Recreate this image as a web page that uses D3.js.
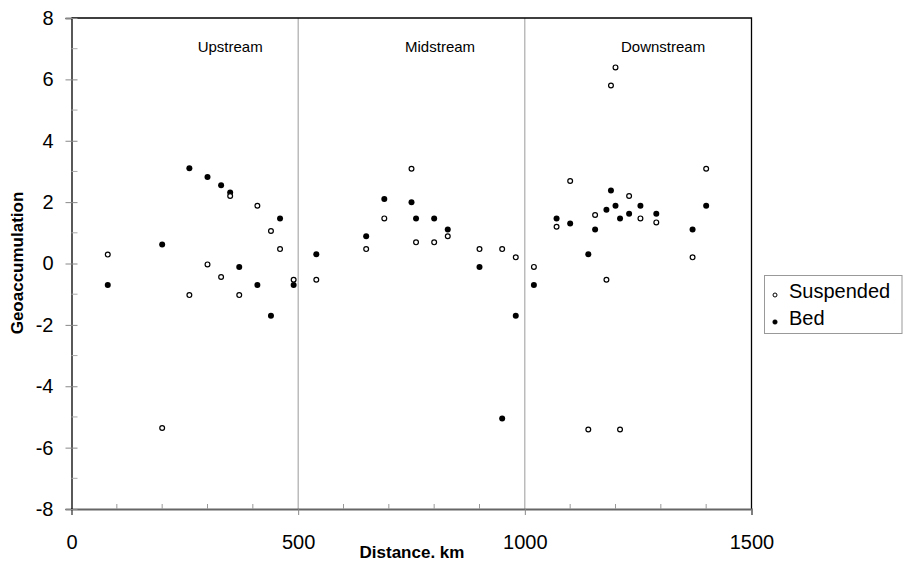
<!DOCTYPE html>
<html>
<head>
<meta charset="utf-8">
<script src="https://cdn.jsdelivr.net/npm/d3@7"></script>
<style>
  html, body { margin: 0; padding: 0; background: #fff; }
  svg { display: block; font-family: "Liberation Sans", Arial, sans-serif; }
</style>
</head>
<body>
<svg id="chart" width="903" height="564"></svg>
<script>
// Sampling distances along the river (km)
const distanceKm = [80, 200, 260, 300, 330, 350, 370, 410, 440, 460, 490,
  540, 650, 690, 750, 760, 800, 830, 900, 950, 980,
  1020, 1070, 1100, 1140, 1155, 1180, 1190, 1200, 1210, 1230, 1255, 1290, 1370, 1400];

// Geoaccumulation index, suspended sediment
const suspended = [0.29, -5.36, -1.03, -0.03, -0.44, 2.2, -1.03, 1.88, 1.06, 0.47, -0.53,
  -0.53, 0.47, 1.47, 3.09, 0.69, 0.69, 0.89, 0.47, 0.47, 0.2,
  -0.11, 1.2, 2.69, -5.41, 1.58, -0.53, 5.8, 6.39, -5.41, 2.2, 1.47, 1.34, 0.2, 3.09];

// Geoaccumulation index, bed sediment
const bed = [-0.7, 0.62, 3.1, 2.82, 2.55, 2.31, -0.11, -0.7, -1.7, 1.47, -0.7,
  0.3, 0.89, 2.1, 2.0, 1.47, 1.47, 1.11, -0.11, -5.05, -1.7,
  -0.7, 1.47, 1.3, 0.3, 1.11, 1.75, 2.38, 1.88, 1.47, 1.62, 1.88, 1.62, 1.11, 1.88];

// River reaches and their boundaries
const reaches = [
  { name: "Upstream", center: 350 },
  { name: "Midstream", center: 813 },
  { name: "Downstream", center: 1305 }
];
const reachBounds = [500, 1000];

const xTicks = [0, 500, 1000, 1500];
const xMinorTicks = d3.range(100, 1500, 100).filter(v => v % 500 !== 0);
const yTicks = [-8, -6, -4, -2, 0, 2, 4, 6, 8];
const yMinorTicks = [-7, -5, -3, -1, 1, 3, 5, 7];

const svg = d3.select("#chart");
const plot = { left: 71.5, right: 751.5, top: 18, bottom: 509 };

const x = d3.scaleLinear().domain([0, 1500]).range([plot.left, plot.right]);
const y = d3.scaleLinear().domain([-8, 8]).range([plot.bottom, plot.top]);

// Plain hyphen-minus labels
const plainFormat = d => String(d);

// Reach dividers
svg.append("g").selectAll("line").data(reachBounds).join("line")
  .attr("x1", d => x(d)).attr("x2", d => x(d))
  .attr("y1", plot.top).attr("y2", plot.bottom)
  .attr("stroke", "#9a9a9a").attr("stroke-width", 1);

// Frame: top and right borders
svg.append("path")
  .attr("d", `M${plot.left},${plot.top}H${plot.right}V${plot.bottom}`)
  .attr("fill", "none").attr("stroke", "#000").attr("stroke-width", 1.3);

// X axis
const xAxis = svg.append("g")
  .attr("transform", `translate(0,${plot.bottom})`)
  .call(d3.axisBottom(x).tickValues(xTicks).tickSize(6).tickPadding(20).tickFormat(plainFormat));
xAxis.select(".domain").attr("stroke", "#666").attr("stroke-width", 1.8);
xAxis.selectAll(".tick line").attr("stroke", "#888");
xAxis.selectAll(".tick text").attr("font-size", 20).attr("fill", "#000")
  .attr("font-family", "Liberation Sans, Arial, sans-serif");
svg.append("g").selectAll("line").data(xMinorTicks).join("line")
  .attr("x1", d => x(d)).attr("x2", d => x(d))
  .attr("y1", plot.bottom).attr("y2", plot.bottom - 5)
  .attr("stroke", "#999");

// Y axis
const yAxis = svg.append("g")
  .attr("transform", `translate(${plot.left},0)`)
  .call(d3.axisLeft(y).tickValues(yTicks).tickSize(6).tickPadding(12).tickFormat(plainFormat));
yAxis.select(".domain").attr("stroke", "#000").attr("stroke-width", 1.3);
yAxis.selectAll(".tick line").attr("stroke", "#888").attr("x2", 6).attr("x1", -6);
yAxis.selectAll(".tick text").attr("font-size", 20).attr("fill", "#000")
  .attr("font-family", "Liberation Sans, Arial, sans-serif");
svg.append("g").selectAll("line").data(yMinorTicks).join("line")
  .attr("x1", plot.left).attr("x2", plot.left + 6)
  .attr("y1", d => y(d)).attr("y2", d => y(d))
  .attr("stroke", "#aaa");

// Reach labels
svg.append("g").selectAll("text").data(reaches).join("text")
  .attr("x", d => x(d.center)).attr("y", 52)
  .attr("text-anchor", "middle").attr("font-size", 15).attr("fill", "#000")
  .text(d => d.name);

// Points
const rows = distanceKm.map((d, i) => ({ d, s: suspended[i], b: bed[i] }));
svg.append("g").selectAll("circle").data(rows).join("circle")
  .attr("cx", r => x(r.d)).attr("cy", r => y(r.b)).attr("r", 3)
  .attr("fill", "#000");
svg.append("g").selectAll("circle").data(rows).join("circle")
  .attr("cx", r => x(r.d)).attr("cy", r => y(r.s)).attr("r", 2.4)
  .attr("fill", "#fff").attr("stroke", "#000").attr("stroke-width", 1.2);

// Axis titles
svg.append("text")
  .attr("x", 412).attr("y", 558)
  .attr("text-anchor", "middle").attr("font-size", 17).attr("font-weight", "bold")
  .text("Distance. km");
svg.append("text")
  .attr("transform", "translate(23,263) rotate(-90)")
  .attr("text-anchor", "middle").attr("font-size", 17).attr("font-weight", "bold")
  .text("Geoaccumulation");

// Legend
const legend = svg.append("g");
legend.append("rect")
  .attr("x", 764.5).attr("y", 275.5).attr("width", 137.5).attr("height", 58)
  .attr("fill", "#fff").attr("stroke", "#999");
const legendItems = [
  { label: "Suspended", open: true, y: 295 },
  { label: "Bed", open: false, y: 322 }
];
legendItems.forEach(it => {
  legend.append("circle")
    .attr("cx", 775).attr("cy", it.y).attr("r", it.open ? 2 : 2.3)
    .attr("fill", it.open ? "#fff" : "#000")
    .attr("stroke", "#000").attr("stroke-width", it.open ? 1 : 0.5);
  legend.append("text")
    .attr("x", 789).attr("y", it.y + 2.5)
    .attr("font-size", 20).attr("fill", "#000")
    .text(it.label);
});
</script>
</body>
</html>
